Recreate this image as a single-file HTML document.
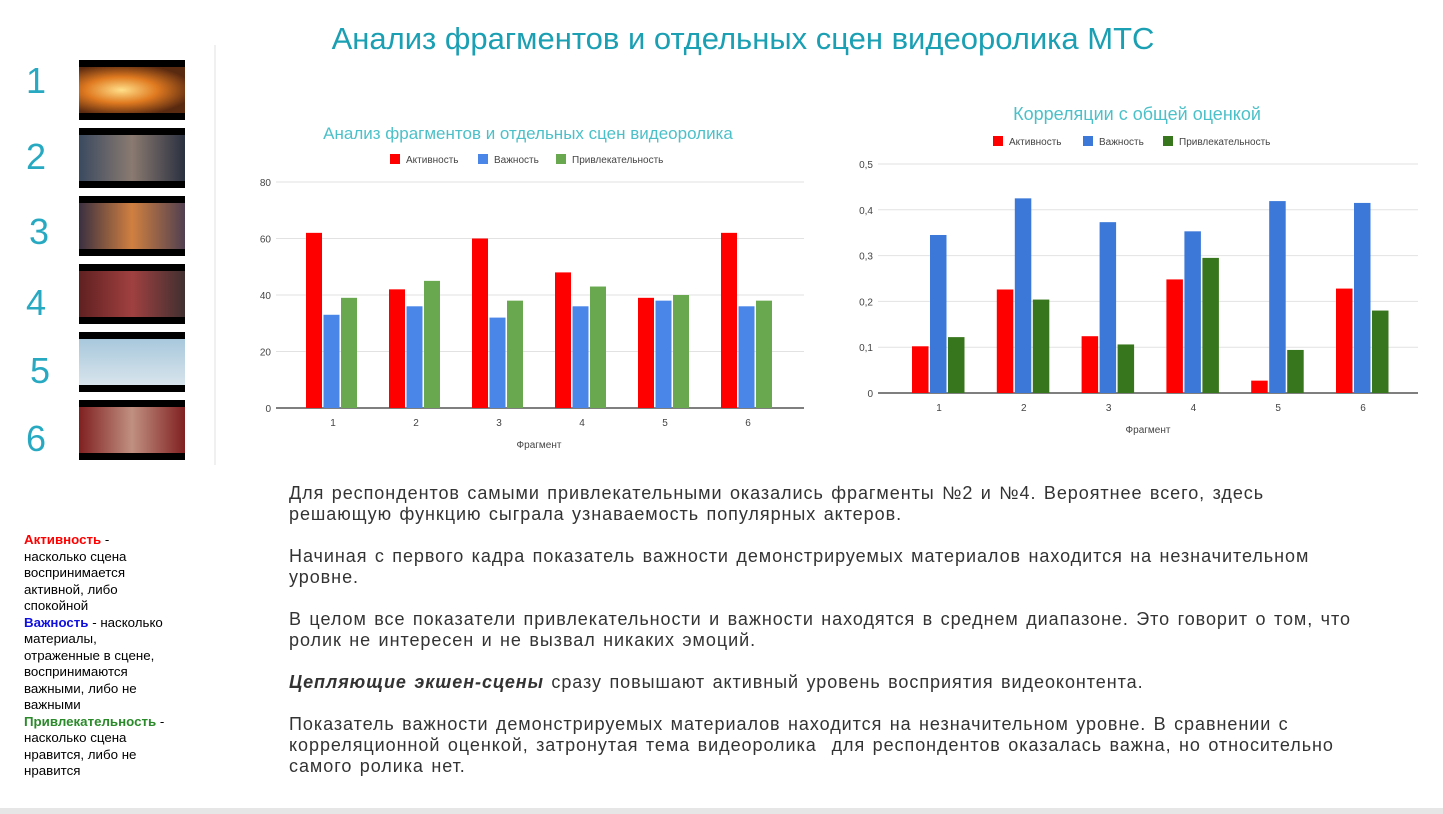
<!DOCTYPE html>
<html><head><meta charset="utf-8">
<style>
body{margin:0;width:1443px;height:814px;background:#fff;position:relative;overflow:hidden;font-family:"Liberation Sans",sans-serif}
.abs{position:absolute}
.num{position:absolute;left:20px;width:32px;text-align:center;font-size:36px;color:#27a9c2;font-family:"Liberation Sans",sans-serif}
.thumb{position:absolute;left:79px;width:106px;height:60px;background:#000}
.thumb div{position:absolute;left:0;right:0;top:7px;bottom:7px}
.txt{position:absolute;left:289px;width:1140px;font-size:18px;color:#333;line-height:21px;white-space:nowrap;word-spacing:1.5px;letter-spacing:0.95px}
.txt p{margin:0 0 21px 0}
.leg{position:absolute;left:24px;top:532px;width:148px;font-size:13.3px;line-height:16.5px;color:#000}
</style></head><body>
<div class="abs" style="left:0;width:1486px;top:21px;text-align:center;font-size:31px;color:#1a9fb3">Анализ фрагментов и отдельных сцен видеоролика МТС</div>
<div class="abs" style="left:214px;top:45px;width:2px;height:420px;background:#f0f0f0"></div>
<div class="abs" style="left:0;top:808px;width:1443px;height:6px;background:#e6e6e6"></div>

<div class="num" style="top:60px">1</div>
<div class="num" style="top:136px">2</div>
<div class="num" style="top:211px;left:23px">3</div>
<div class="num" style="top:282px">4</div>
<div class="num" style="top:350px;left:24px">5</div>
<div class="num" style="top:418px">6</div>

<div class="thumb" style="top:60px"><div style="background:radial-gradient(ellipse at 40% 50%,#ffe08a,#e07a20 40%,#5a2a10 80%)"></div></div>
<div class="thumb" style="top:128px"><div style="background:linear-gradient(90deg,#3a4a60,#8a7a70 50%,#2a3040)"></div></div>
<div class="thumb" style="top:196px"><div style="background:linear-gradient(90deg,#3a3040,#d08040 50%,#504050)"></div></div>
<div class="thumb" style="top:264px"><div style="background:linear-gradient(90deg,#602020,#a04040 50%,#403030)"></div></div>
<div class="thumb" style="top:332px"><div style="background:linear-gradient(180deg,#a8c8dc,#d8e4ec)"></div></div>
<div class="thumb" style="top:400px"><div style="background:linear-gradient(90deg,#802020,#c09080 50%,#802020)"></div></div>

<svg class="abs" style="left:0;top:0" width="1443" height="470" id="charts"></svg>

<div class="txt" style="top:483px">
<p>Для респондентов самыми привлекательными оказались фрагменты №2 и №4. Вероятнее всего, здесь<br>решающую функцию сыграла узнаваемость популярных актеров.</p>
<p>Начиная с первого кадра показатель важности демонстрируемых материалов находится на незначительном<br>уровне.</p>
<p>В целом все показатели привлекательности и важности находятся в среднем диапазоне. Это говорит о том, что<br>ролик не интересен и не вызвал никаких эмоций.</p>
<p><b><i>Цепляющие экшен-сцены</i></b> сразу повышают активный уровень восприятия видеоконтента.</p>
<p>Показатель важности демонстрируемых материалов находится на незначительном уровне. В сравнении с<br>корреляционной оценкой, затронутая тема видеоролика&nbsp; для респондентов оказалась важна, но относительно<br>самого ролика нет.</p>
</div>

<div class="leg">
<b style="color:#f00">Активность</b> - насколько сцена воспринимается активной, либо спокойной<br>
<b style="color:#1010e0">Важность</b> - насколько материалы, отраженные в сцене, воспринимаются важными, либо не важными<br>
<b style="color:#2a8a2a">Привлекательность</b> - насколько сцена нравится, либо не нравится
</div>

<script>
const categories=["1","2","3","4","5","6"];
const seriesNames=["Активность","Важность","Привлекательность"];
const leftActivity=[62,42,60,48,39,62];
const leftImportance=[33,36,32,36,38,36];
const leftAttract=[39,45,38,43,40,38];
const leftTicks=[0,20,40,60,80];
const rightActivity=[0.102,0.226,0.124,0.248,0.027,0.228];
const rightImportance=[0.345,0.425,0.373,0.353,0.419,0.415];
const rightAttract=[0.122,0.204,0.106,0.295,0.094,0.18];
const rightTicks=[0,0.1,0.2,0.3,0.4,0.5];
const rightTickLabels=["0","0,1","0,2","0,3","0,4","0,5"];

const svg=document.getElementById('charts');
const NS='http://www.w3.org/2000/svg';
function mk(tag,attrs,text){const e=document.createElementNS(NS,tag);for(const k in attrs)e.setAttribute(k,attrs[k]);if(text!==undefined)e.textContent=text;svg.appendChild(e);return e;}

function chart(o){
  const y=v=>o.y0-(v/o.max)*(o.y0-o.yTop);
  const x=i=>o.c0+o.step*i;
  let t=mk('text',{x:o.titleX,y:o.titleY,'text-anchor':'middle','font-size':o.titleSize,fill:'#4cc0c8','font-family':'Liberation Sans, sans-serif'},o.title);
  
  o.ticks.forEach((v,i)=>{
    const l=mk('line',{x1:o.x0,x2:o.x1,y1:y(v),y2:y(v),stroke:v===0?'#555':'#e2e2e2','stroke-width':v===0?1.5:1});
    
    const tl=mk('text',{x:o.x0-5,y:y(v)+4,'text-anchor':'end','font-size':10,fill:'#444'},o.tickLabels[i]);
    
  });
  o.series.forEach((s,si)=>{
    s.forEach((v,i)=>{
      const bx=x(i)+o.off+si*(o.bw+1.5);
      const r=mk('rect',{x:bx,y:y(v),width:o.bw,height:o.y0-y(v),fill:o.colors[si]});
      
    });
  });
  categories.forEach((c,i)=>{
    const tl=mk('text',{x:x(i),y:o.y0+18,'text-anchor':'middle','font-size':10,fill:'#444'},c);
    
  });
  const xt=mk('text',{x:o.xtX,y:o.y0+40,'text-anchor':'middle','font-size':10,fill:'#444'},'Фрагмент');
  
  let lx=o.legX;
  seriesNames.forEach((n,si)=>{
    const r=mk('rect',{x:lx,y:o.legY-9,width:10,height:10,fill:o.colors[si]});
    
    const tx=mk('text',{x:lx+16,y:o.legY,'font-size':10,fill:'#444'},n);
    
    lx+=16+o.legW[si];
  });
}
chart({id:'left-chart',x0:276,x1:804,y0:408,yTop:182,max:80,c0:333,step:83,off:-27,bw:16,ticks:leftTicks,tickLabels:leftTicks.map(String),
  series:[leftActivity,leftImportance,leftAttract],colors:['#ff0000','#4a86e8','#6aa84f'],
  title:'Анализ фрагментов и отдельных сцен видеоролика',titleX:528,titleY:139,titleSize:17,xtX:539,legX:390,legY:163,legW:[72,62,100]});
chart({id:'right-chart',x0:878,x1:1418,y0:393,yTop:164,max:0.5,c0:939,step:84.8,off:-27,bw:16.5,ticks:rightTicks,tickLabels:rightTickLabels,
  series:[rightActivity,rightImportance,rightAttract],colors:['#ff0000','#3c78d8','#38761d'],
  title:'Корреляции с общей оценкой',titleX:1137,titleY:120,titleSize:18,xtX:1148,legX:993,legY:145,legW:[74,64,110]});
</script>
</body></html>
